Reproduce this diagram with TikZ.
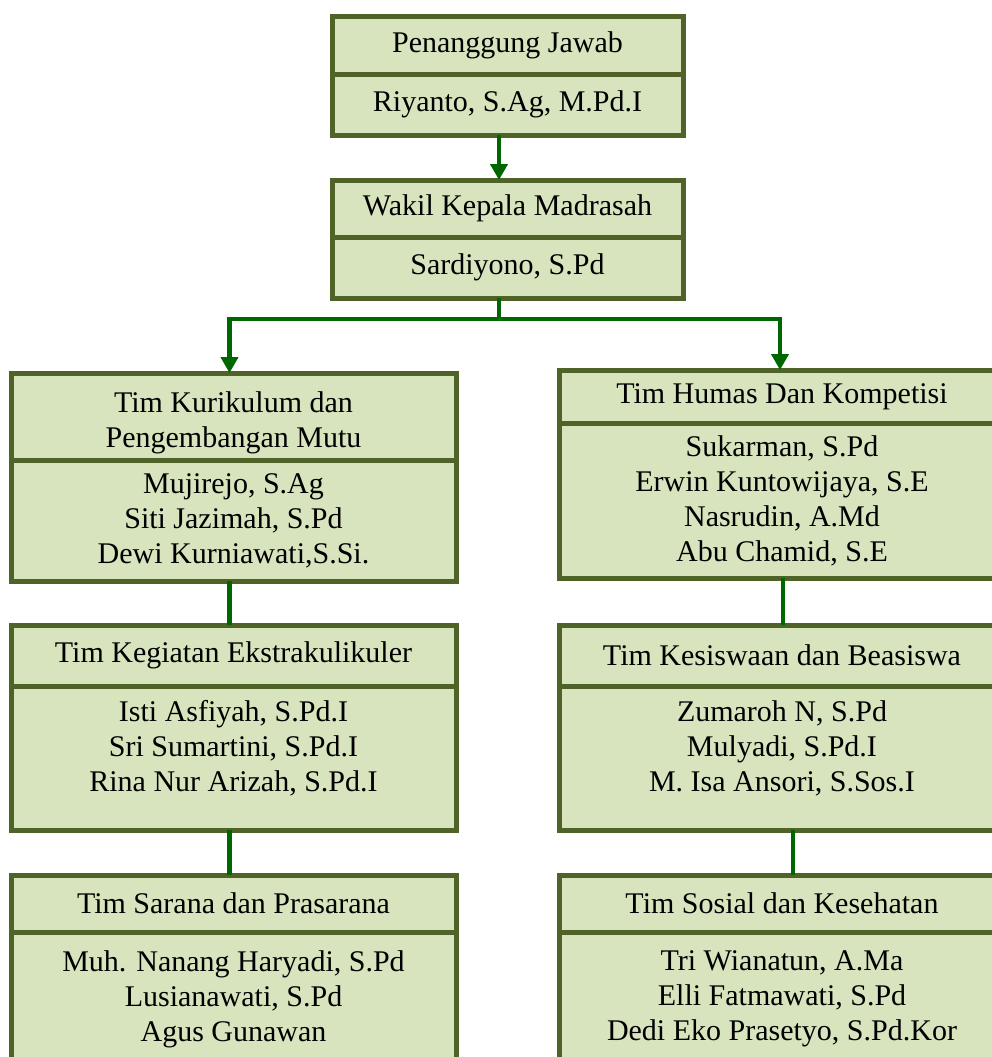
\documentclass[tikz,border=0pt]{standalone}
\usepackage{fontspec}
\setmainfont{Liberation Serif}
\usetikzlibrary{positioning}
\usetikzlibrary{arrows.meta}
\definecolor{boxline}{HTML}{4F6228}
\definecolor{boxfill}{HTML}{D7E4BD}
\definecolor{linkgreen}{HTML}{006600}

\begin{document}
\begin{tikzpicture}[x=0.5pt,y=-0.5pt,
  part/.style={draw=boxline, fill=boxfill, line width=2.5pt, outer sep=0pt, inner sep=2pt,
    align=center, font=\fontsize{15}{17.5}\selectfont},
  link/.style={draw=linkgreen, line width=2.4pt},
  tip/.style={-{Triangle[width=8.5pt,length=8pt]}}]
\useasboundingbox (0,0) rectangle (992,1057);
\clip (0,0) rectangle (992,1057);

\node[part, minimum width=175.5pt, minimum height=29pt, anchor=north west] (pj-h) at (332,16) {Penanggung Jawab};
\node[part, minimum width=175.5pt, minimum height=30.5pt, below=0pt of pj-h] (pj-b) {Riyanto, S.Ag, M.Pd.I};

\node[part, minimum width=175.5pt, minimum height=28.5pt, anchor=north west] (wk-h) at (332,180) {Wakil Kepala Madrasah};
\node[part, minimum width=175.5pt, minimum height=30.5pt, below=0pt of wk-h] (wk-b) {Sardiyono, S.Pd};

% kiri
\node[part, minimum width=222.5pt, minimum height=43.5pt, text height=34pt, anchor=north west] (kur-h) at (11,373) {Tim Kurikulum dan\\Pengembangan Mutu};
\node[part, minimum width=222.5pt, minimum height=60.5pt, below=0pt of kur-h] (kur-b) {Mujirejo, S.Ag\\Siti Jazimah, S.Pd\\Dewi Kurniawati,S.Si.};

\node[part, minimum width=222.5pt, minimum height=30.5pt, anchor=north west] (keg-h) at (11,625) {Tim Kegiatan Ekstrakulikuler};
\node[part, minimum width=222.5pt, minimum height=72pt, text depth=12pt, below=0pt of keg-h] (keg-b) {Isti Asfiyah, S.Pd.I\\Sri Sumartini, S.Pd.I\\Rina Nur Arizah, S.Pd.I};

\node[part, minimum width=222.5pt, minimum height=28.5pt, anchor=north west] (sar-h) at (11,875) {Tim Sarana dan Prasarana};
\node[part, minimum width=222.5pt, minimum height=67pt, below=0pt of sar-h] (sar-b) {Muh. Nanang Haryadi, S.Pd\\Lusianawati, S.Pd\\Agus Gunawan};

% kanan
\node[part, minimum width=223pt, minimum height=26.5pt, anchor=north west] (hum-h) at (559,370) {Tim Humas Dan Kompetisi};
\node[part, minimum width=223pt, minimum height=77.5pt, below=0pt of hum-h] (hum-b) {Sukarman, S.Pd\\Erwin Kuntowijaya, S.E\\Nasrudin, A.Md\\Abu Chamid, S.E};

\node[part, minimum width=223pt, minimum height=30.5pt, anchor=north west] (kes-h) at (559,625) {Tim Kesiswaan dan Beasiswa};
\node[part, minimum width=223pt, minimum height=72pt, text depth=12pt, below=0pt of kes-h] (kes-b) {Zumaroh N, S.Pd\\Mulyadi, S.Pd.I\\M. Isa Ansori, S.Sos.I};

\node[part, minimum width=223pt, minimum height=28.5pt, anchor=north west] (sos-h) at (559,875) {Tim Sosial dan Kesehatan};
\node[part, minimum width=223pt, minimum height=67pt, below=0pt of sos-h] (sos-b) {Tri Wianatun, A.Ma\\Elli Fatmawati, S.Pd\\Dedi Eko Prasetyo, S.Pd.Kor};

\draw[link, tip] ([xshift=-4.25pt]pj-b.south) -- ([xshift=-4.25pt]wk-h.north);
\draw[link] ([xshift=-4.25pt]wk-b.south) -- ++(0,21) coordinate (fork);
\draw[link, tip] (fork) -| ([xshift=-2pt]kur-h.north);
\draw[link, tip] (fork) -| ([xshift=-1pt]hum-h.north);
\draw[link] ([xshift=-2pt]kur-b.south) -- ([xshift=-2pt]keg-h.north);
\draw[link] ([xshift=-2pt]keg-b.south) -- ([xshift=-2pt]sar-h.north);
\draw[link] ([xshift=0.5pt]hum-b.south) -- ([xshift=0.5pt]kes-h.north);
\draw[link] ([xshift=5.5pt]kes-b.south) -- ([xshift=5.5pt]sos-h.north);
\end{tikzpicture}
\end{document}
